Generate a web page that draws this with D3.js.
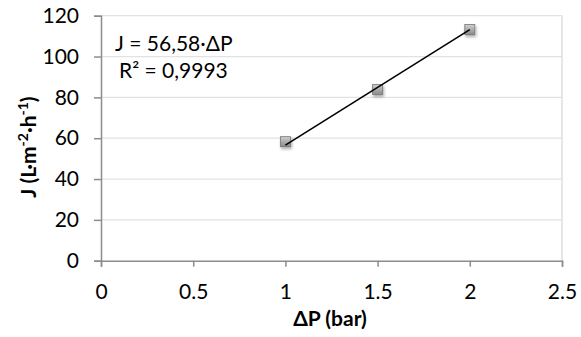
<!DOCTYPE html>
<html><head><meta charset="utf-8">
<script src="https://cdn.jsdelivr.net/npm/d3@7"></script>
<style>body{margin:0;background:#fff}svg{display:block}text{font-family:Lato,"Open Sans",sans-serif}</style>
</head><body><svg id="c" width="581" height="337"></svg>
<script>
const xVals = [1, 1.5, 2];
const yVals = [58.3, 83.9, 113.2];
const slope = 56.58;
const xTicks = [0, 0.5, 1, 1.5, 2, 2.5];
const yTicks = [0, 20, 40, 60, 80, 100, 120];
const eqText = "J = 56,58·ΔP";
const r2Text = "R² = 0,9993";

const FS = 21;
const svg = d3.select("#c");
const x = d3.scaleLinear().domain([0, 2.5]).range([101, 562]);
const y = d3.scaleLinear().domain([0, 120]).range([260.7, 15.7]);

const defs = svg.append("defs");
const g = defs.append("linearGradient").attr("id","mg").attr("x1","0").attr("y1","0").attr("x2","0").attr("y2","1");
g.append("stop").attr("offset","0").attr("stop-color","#d0d0d0");
g.append("stop").attr("offset","1").attr("stop-color","#8a8a8a");
const f = defs.append("filter").attr("id","sh").attr("x","-50%").attr("y","-50%").attr("width","200%").attr("height","200%");
f.append("feDropShadow").attr("dx",1).attr("dy",2).attr("stdDeviation",1.5).attr("flood-color","#000").attr("flood-opacity",0.35);

// gridlines
svg.append("g").selectAll("line").data(yTicks.slice(1)).join("line")
  .attr("x1", x(0)).attr("x2", x(2.5)).attr("y1", d=>y(d)).attr("y2", d=>y(d))
  .attr("stroke","#e2e2e2").attr("stroke-width",1.3);
// right border
svg.append("line").attr("x1",x(2.5)).attr("x2",x(2.5)).attr("y1",y(120)).attr("y2",y(0)).attr("stroke","#d9d9d9").attr("stroke-width",1.3);

const xAxis = svg.append("g").attr("transform",`translate(0,${y(0)})`)
  .call(d3.axisBottom(x).tickValues(xTicks).tickFormat(d=>String(d)).tickSize(6).tickPadding(17));
const yAxis = svg.append("g").attr("transform",`translate(${x(0)},0)`)
  .call(d3.axisLeft(y).tickValues(yTicks).tickSize(7).tickPadding(15));
[xAxis,yAxis].forEach(a=>{
  a.select(".domain").attr("stroke","#8c8c8c").attr("stroke-width",1.5);
  a.selectAll(".tick line").attr("stroke","#8c8c8c").attr("stroke-width",1.5);
  a.selectAll("text").attr("font-size",FS).attr("fill","#000").attr("font-family","Lato,'Open Sans',sans-serif");
});

// markers
svg.append("g").selectAll("rect").data(xVals.map((d,i)=>[d,yVals[i]])).join("rect")
  .attr("x",d=>x(d[0])-5).attr("y",d=>y(d[1])-5).attr("width",10).attr("height",10)
  .attr("fill","url(#mg)").attr("stroke","#777").attr("stroke-width",0.8).attr("filter","url(#sh)");

// trend line
svg.append("line").attr("x1",x(xVals[0])).attr("y1",y(slope*xVals[0]))
  .attr("x2",x(xVals[2])).attr("y2",y(slope*xVals[2]))
  .attr("stroke","#000").attr("stroke-width",1.6);

svg.append("text").attr("x",115).attr("y",51).attr("font-size",FS).text(eqText);
svg.append("text").attr("x",119).attr("y",78).attr("font-size",FS).text(r2Text);

svg.append("text").attr("x",330).attr("y",326).attr("text-anchor","middle")
  .attr("font-size",FS).attr("font-weight","bold").text("ΔP (bar)");
const yt = svg.append("text").attr("transform","translate(36,147) rotate(-90)").attr("text-anchor","middle")
  .attr("font-size",FS).attr("font-weight","bold");
yt.append("tspan").text("J (L·m");
yt.append("tspan").attr("baseline-shift","super").attr("font-size",14).text("-2");
yt.append("tspan").text("·h");
yt.append("tspan").attr("baseline-shift","super").attr("font-size",14).text("-1");
yt.append("tspan").text(")");
</script></body></html>
